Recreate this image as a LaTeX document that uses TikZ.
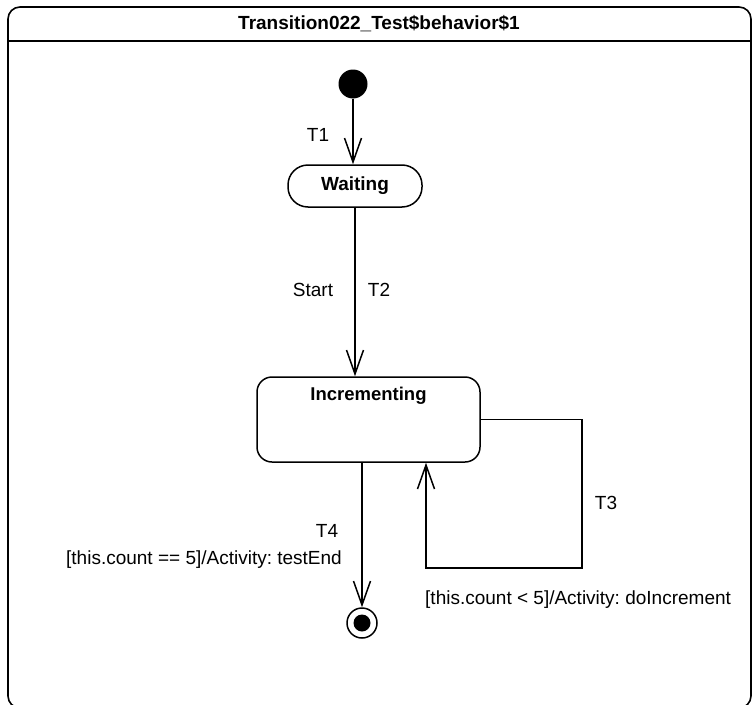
\documentclass[tikz,border=0pt]{standalone}
\usepackage{fontspec}
\setmainfont{Liberation Sans}
\usetikzlibrary{arrows.meta}
\frenchspacing

\tikzset{
  state/.style={draw,line width=1.5pt,rounded corners=#1,fill=white},
  lbl/.style={inner sep=0pt,font=\fontsize{19}{22}\selectfont},
  arr/.style={line width=1.5pt,-{Straight Barb[length=24pt,width=17pt,line width=1.5pt]}}
}

\begin{document}
\begin{tikzpicture}[x=1pt,y=-1pt]
\clip (0,0) rectangle (752,704);
\useasboundingbox (0,0) rectangle (752,704);
% frame
\draw[line width=1.6pt,rounded corners=12] (8,7) rectangle (751,708);
\draw[line width=1.6pt] (8,41) -- (751,41);
\node[lbl,font=\fontsize{19}{22}\selectfont\bfseries] (title) at (379,24) {Transition022\_Test\$behavior\$1};
% states
\node[circle,fill=black,minimum size=29pt,inner sep=0pt] (init) at (353,84) {};
\node[state=20,minimum width=134pt,minimum height=42pt,inner sep=0pt,font=\fontsize{19}{22}\selectfont\bfseries] (wait) at (355,186) {Waiting};
\node[state=15,minimum width=223pt,minimum height=85pt,inner sep=0pt] (inc) at (368.5,419.5) {};
\node[lbl,font=\fontsize{18.5}{22}\selectfont\bfseries] (incname) at (368.5,396) {Incrementing};
\node[circle,draw,line width=1.5pt,minimum size=30pt,inner sep=0pt] (fin) at (362,623) {};
\node[circle,fill=black,minimum size=17pt,inner sep=0pt] (fincore) at (fin) {};
% transitions
\draw[arr] (init) -- (init |- wait.north);
\draw[arr] (wait.south) -- (wait.south |- inc.north);
\coordinate (loopa) at (582,568);
\coordinate (loopb) at (426,568);
\draw[arr] (inc.east) -| (loopa) -- (loopb) -- (loopb |- inc.south);
\draw[arr] (fin |- inc.south) -- (fin.north);
% labels
\node[lbl] (t1) at (318,135) {T1};
\node[lbl] (start) at (313,290) {Start};
\node[lbl] (t2) at (379,290) {T2};
\node[lbl] (t3) at (606,503) {T3};
\node[lbl] (t4) at (327,531) {T4};
\node[lbl,anchor=east] (guard4) at (342,560) {[this.count == 5]/Activity: testEnd};
\node[lbl,anchor=west] (guard3) at (425,600) {[this.count < 5]/Activity: doIncrement};
\end{tikzpicture}
\end{document}
